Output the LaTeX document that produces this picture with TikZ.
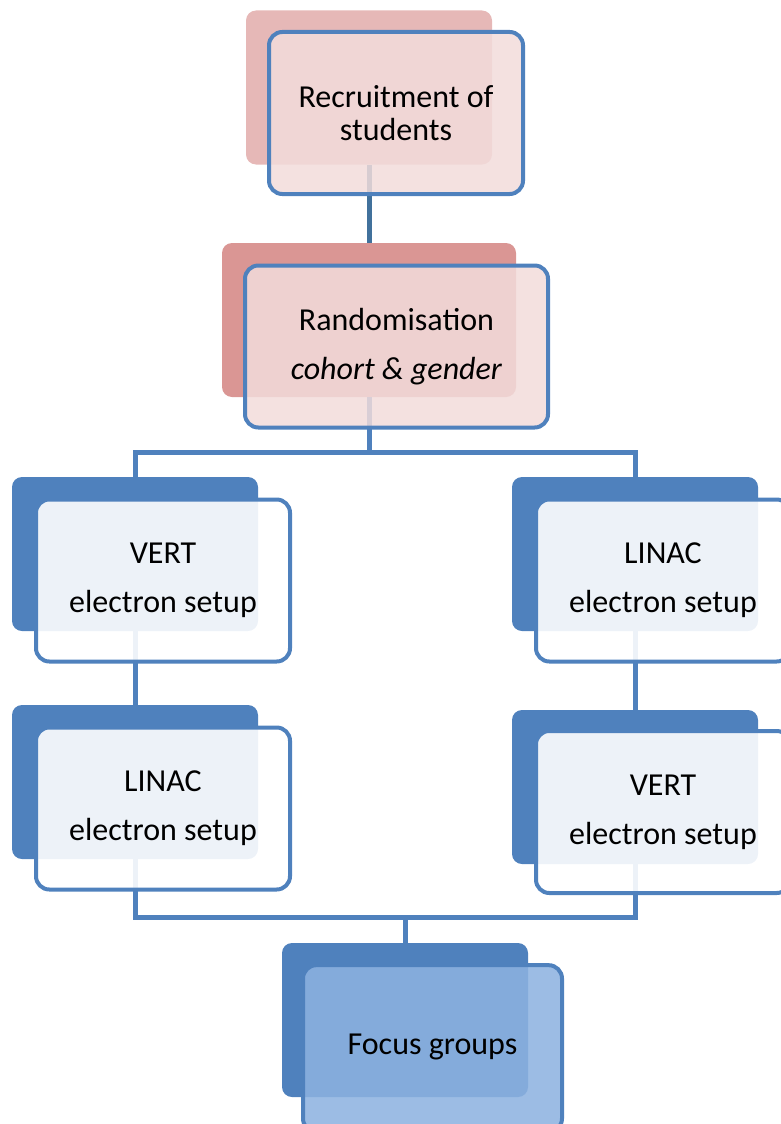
\documentclass[tikz,border=0pt]{standalone}
\usepackage{fontspec}
\setmainfont{Carlito}
\usepackage{tikz}

\definecolor{linkblue}{HTML}{4F81BD}
\definecolor{darklink}{HTML}{41719C}
\definecolor{pinkA}{HTML}{E6B8B7}
\definecolor{pinkB}{HTML}{DA9694}
\definecolor{pinkfront}{HTML}{F2DCDB}
\definecolor{focusfront}{HTML}{8DB2E0}

\tikzset{
  backbox/.style={rounded corners=7.5pt, minimum width=184.5pt, minimum height=115.5pt, inner sep=0pt},
  frontbox/.style={draw=linkblue, line width=3pt, rounded corners=10pt, minimum width=190.5pt, minimum height=121.5pt,
    inner sep=0pt, align=center, fill opacity=0.9, text opacity=1, font=\fontsize{24}{24.75}\selectfont},
  link/.style={draw=linkblue, line width=3.75pt},
}

\begin{document}
\begin{tikzpicture}[x=0.75pt,y=-0.75pt]
\useasboundingbox (0,0) rectangle (781,1124);

% shadow boxes
\node[backbox, fill=pinkA] (recb) at (369,87.5) {};
\node[backbox, fill=pinkB, minimum width=220.5pt] (randb) at (369,320) {};
\node[backbox, fill=linkblue] (vertlb) at (135,554) {};
\node[backbox, fill=linkblue] (linaclb) at (135,782) {};
\node[backbox, fill=linkblue] (linacrb) at (635,554) {};
\node[backbox, fill=linkblue] (vertrb) at (635,787) {};
\node[backbox, fill=linkblue] (focusb) at (405,1020) {};

% links
\coordinate (split) at (369,452);
\coordinate (merge) at (405,917);
\draw[link, draw=darklink] (recb.south) -- (randb.north);
\draw[link] (randb.south) -- (split);
\draw[link] (vertlb.north) |- (split) -| (linacrb.north);
\draw[link] (vertlb.south) -- (linaclb.north);
\draw[link] (linacrb.south) -- (vertrb.north);
\draw[link] (linaclb.south) |- (merge) -| (vertrb.south);
\draw[link] (merge) -- (focusb.north);

% boxes with text
\node[frontbox, fill=pinkfront, fill opacity=0.85] (rec) at (396,113) {Recruitment of\\students};
\node[frontbox, fill=pinkfront, fill opacity=0.85, minimum width=227.25pt] (rand) at (396.5,346.5) {Randomisation\\[12pt]\textit{cohort \& gender}};
\node[frontbox, fill=white] (vertl) at (163,580.5) {VERT\\[12pt]electron setup};
\node[frontbox, fill=white] (linacl) at (163,808.5) {LINAC\\[12pt]electron setup};
\node[frontbox, fill=white] (linacr) at (663,580.5) {LINAC\\[12pt]electron setup};
\node[frontbox, fill=white] (vertr) at (663,812) {VERT\\[12pt]electron setup};
\node[frontbox, fill=focusfront, fill opacity=0.87, minimum width=194.25pt, minimum height=125pt] (focus) at (432.5,1048.5) {};
\node[font=\fontsize{24}{24.75}\selectfont] (focustext) at (432.5,1047) {Focus groups};
\end{tikzpicture}
\end{document}
